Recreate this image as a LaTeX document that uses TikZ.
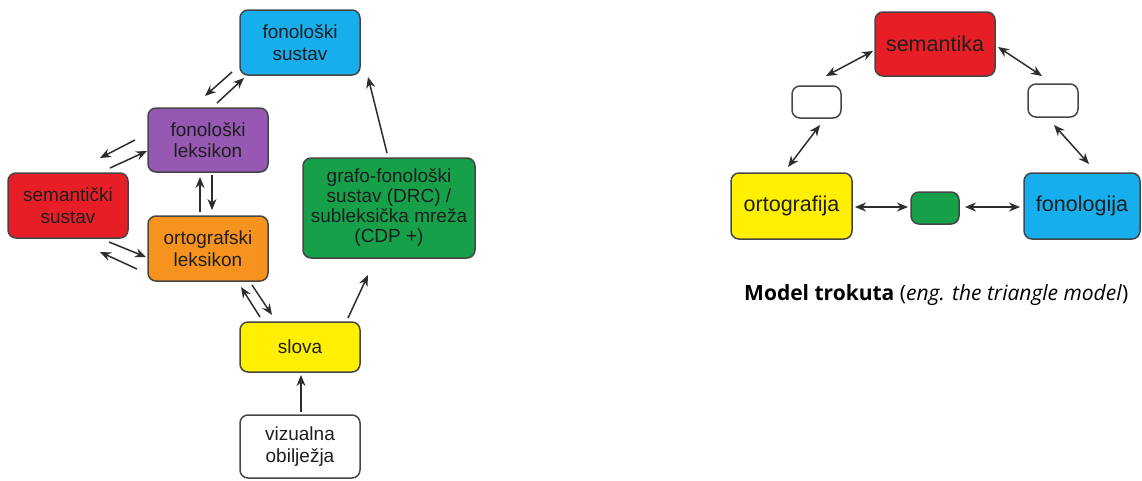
\documentclass[tikz,border=0pt]{standalone}
\usepackage{fontspec}
\setmainfont{Liberation Sans}
\newfontfamily\capfont{Open Sans}
\usetikzlibrary{arrows.meta,calc}
\definecolor{cBlue}{RGB}{22,174,236}
\definecolor{cPurple}{RGB}{150,88,178}
\definecolor{cRed}{RGB}{232,30,38}
\definecolor{cOrange}{RGB}{246,146,30}
\definecolor{cGreen}{RGB}{22,160,74}
\definecolor{cYellow}{RGB}{255,240,0}
\definecolor{cBorder}{RGB}{70,70,70}
\definecolor{cArrow}{RGB}{45,45,45}
\definecolor{cText}{RGB}{30,30,30}
\tikzset{
  box/.style={draw=cBorder, line width=1.5pt, rounded corners=8pt, align=center,
    inner sep=0pt, text=cText, font=\fontsize{19}{21.5}\selectfont},
  gbox/.style={box, font=\fontsize{19}{20}\selectfont},
  rbox/.style={box, font=\fontsize{21.5}{24}\selectfont},
  arr/.style={draw=cArrow, line width=1.5pt, -{Stealth[length=11pt,width=9pt]}},
  darr/.style={draw=cArrow, line width=1.5pt, {Stealth[length=11pt,width=9pt]}-{Stealth[length=11pt,width=9pt]}}
}
\begin{document}
\begin{tikzpicture}[x=1pt,y=-1pt]
\useasboundingbox (0,0) rectangle (1142,480);
% ---------- left diagram ----------
\node[box, fill=cBlue, minimum width=120pt, minimum height=65pt] (fs) at (300,42.5) {fonološki\\sustav};
\node[box, fill=cPurple, minimum width=120pt, minimum height=64pt] (fl) at (208,140) {fonološki\\leksikon};
\node[box, fill=cRed, minimum width=120pt, minimum height=65pt] (ss) at (68,205.5) {semantički\\sustav};
\node[box, fill=cOrange, minimum width=120pt, minimum height=65pt] (ol) at (208,248.5) {ortografski\\leksikon};
\node[gbox, fill=cGreen, minimum width=172pt, minimum height=100pt] (gf) at (389,208) {grafo-fonološki\\sustav (DRC) /\\subleksička mreža\\(CDP +)};
\node[box, fill=cYellow, minimum width=120pt, minimum height=50pt] (sl) at (300,347) {slova};
\node[box, fill=white, minimum width=120pt, minimum height=63pt] (vo) at (300,446.5) {vizualna\\obilježja};

% connector end points
\coordinate (a1s) at (232,72);  \coordinate (a1e) at (205,96);
\coordinate (a2s) at (217,103); \coordinate (a2e) at (244,78);
\coordinate (b1s) at (135,140); \coordinate (b1e) at (100,158);
\coordinate (b2s) at (110,168); \coordinate (b2e) at (147,151);
\coordinate (c1s) at (200,212); \coordinate (c1e) at (200,177);
\coordinate (c2s) at (212,175); \coordinate (c2e) at (212,210);
\coordinate (d1s) at (109,242); \coordinate (d1e) at (146,257);
\coordinate (d2s) at (137,269); \coordinate (d2e) at (100,252);
\coordinate (e1s) at (260,317); \coordinate (e1e) at (241,287);
\coordinate (e2s) at (252,285); \coordinate (e2e) at (272,315);
\coordinate (f1s) at (348,318); \coordinate (f1e) at (368,275);
\coordinate (g1s) at (387,153); \coordinate (g1e) at (368,77);
\coordinate (h1s) at (301,412); \coordinate (h1e) at (301,375);

\draw[arr] (a1s) -- (a1e);
\draw[arr] (a2s) -- (a2e);
\draw[arr] (b1s) -- (b1e);
\draw[arr] (b2s) -- (b2e);
\draw[arr] (c1s) -- (c1e);
\draw[arr] (c2s) -- (c2e);
\draw[arr] (d1s) -- (d1e);
\draw[arr] (d2s) -- (d2e);
\draw[arr] (e1s) -- (e1e);
\draw[arr] (e2s) -- (e2e);
\draw[arr] (f1s) -- (f1e);
\draw[arr] (g1s) -- (g1e);
\draw[arr] (h1s) -- (h1e);

% ---------- right diagram ----------
\node[rbox, fill=cRed, minimum width=120pt, minimum height=64pt] (sem) at (935,44) {semantika};
\node[rbox, fill=white, minimum width=49pt, minimum height=32pt] (lb) at (816.5,102) {};
\node[rbox, fill=white, minimum width=50pt, minimum height=33pt] (rb) at (1053,100.5) {};
\node[rbox, fill=cYellow, minimum width=121pt, minimum height=66pt] (ort) at (791.5,206) {ortografija};
\node[rbox, fill=cGreen, minimum width=48pt, minimum height=32pt] (gr) at (935,208) {};
\node[rbox, fill=cBlue, minimum width=116pt, minimum height=66pt] (fon) at (1082,206) {fonologija};

\coordinate (r1s) at (873,51);  \coordinate (r1e) at (826,76);
\coordinate (r2s) at (998,47);  \coordinate (r2e) at (1042,76);
\coordinate (r3s) at (820,125); \coordinate (r3e) at (788,167);
\coordinate (r4s) at (1054,125); \coordinate (r4e) at (1089,164);
\coordinate (r5s) at (855,207); \coordinate (r5e) at (908,207);
\coordinate (r6s) at (965,207); \coordinate (r6e) at (1020,207);

\draw[darr] (r1s) -- (r1e);
\draw[darr] (r2s) -- (r2e);
\draw[darr] (r3s) -- (r3e);
\draw[darr] (r4s) -- (r4e);
\draw[darr] (r5s) -- (r5e);
\draw[darr] (r6s) -- (r6e);

\node[font=\capfont\fontsize{21}{25}\selectfont, inner sep=0pt, anchor=west] (cap) at (744,295)
  {\textbf{Model trokuta} (\textit{eng. the triangle model})};
\end{tikzpicture}
\end{document}
